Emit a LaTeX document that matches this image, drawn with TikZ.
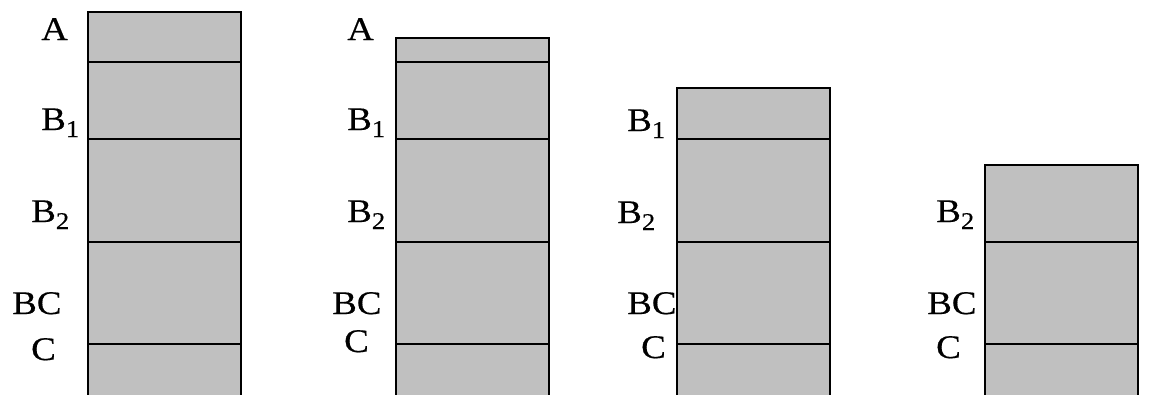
\documentclass[tikz,border=0pt]{standalone}
\usepackage{fontspec}
\setmainfont{Liberation Serif}[FakeStretch=1.12,FakeBold=0.4,UprightFeatures={FakeBold=0.4}]
\definecolor{soilgray}{RGB}{192,192,192}
\newcommand{\hsub}[1]{\raisebox{-7pt}{\fontsize{24}{24}\selectfont #1}}
\begin{document}
\begin{tikzpicture}[x=1pt,y=-1pt,
  lbl/.style={anchor=base west, inner sep=0pt, font=\fontsize{33}{33}\selectfont},
  soil/.style={fill=soilgray, draw=none},
  edge/.style={line width=2pt, draw=black}]
\useasboundingbox (0,0) rectangle (1156,394);
\clip (0,0) rectangle (1156,394);
% labels column 1
\node[lbl] (a1)  at (41,40)  {A};
\node[lbl] (ba1) at (41,130) {B\hsub{1}};
\node[lbl] (bb1) at (31,222) {B\hsub{2}};
\node[lbl] (bc1) at (12,314) {BC};
\node[lbl] (c1)  at (31,360) {C};
% labels column 2
\node[lbl] (a2)  at (347,40)  {A};
\node[lbl] (ba2) at (347,130) {B\hsub{1}};
\node[lbl] (bb2) at (347,222) {B\hsub{2}};
\node[lbl] (bc2) at (332,314) {BC};
\node[lbl] (c2)  at (344,352) {C};
% labels column 3
\node[lbl] (ba3) at (627,131) {B\hsub{1}};
\node[lbl] (bb3) at (617,223) {B\hsub{2}};
\node[lbl] (bc3) at (627,314) {BC};
\node[lbl] (c3)  at (641,358) {C};
% labels column 4
\node[lbl] (bb4) at (936,222) {B\hsub{2}};
\node[lbl] (bc4) at (927,314) {BC};
\node[lbl] (c4)  at (936,358) {C};
% columns
\foreach \xl/\top/\lines in {88/12/{62,139,242,344}, 396/38/{62,139,242,344}, 677/88/{139,242,344}, 985/165/{242,344}}{
  \fill[soil] (\xl,\top) rectangle ({\xl+153},400);
  \foreach \yy in \lines {\draw[edge] (\xl,\yy) -- ({\xl+153},\yy);}
  \draw[edge] (\xl,400) -- (\xl,\top) -- ({\xl+153},\top) -- ({\xl+153},400);
}
\end{tikzpicture}
\end{document}
